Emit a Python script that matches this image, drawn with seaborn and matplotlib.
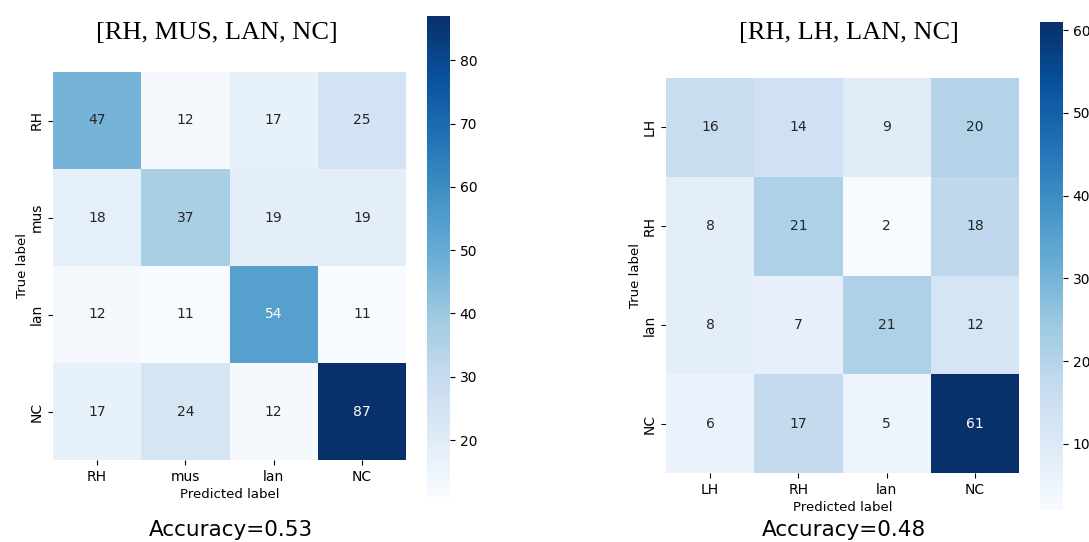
import numpy as np
import pandas as pd
import matplotlib
matplotlib.use("Agg")
import matplotlib.pyplot as plt
import seaborn as sns

# confusion matrices
labels_a = ["RH", "mus", "lan", "NC"]
cm_a = [[47, 12, 17, 25],
        [18, 37, 19, 19],
        [12, 11, 54, 11],
        [17, 24, 12, 87]]
title_a = "[RH, MUS, LAN, NC]"
acc_a = 0.53

labels_b = ["LH", "RH", "lan", "NC"]
cm_b = [[16, 14, 9, 20],
        [8, 21, 2, 18],
        [8, 7, 21, 12],
        [6, 17, 5, 61]]
title_b = "[RH, LH, LAN, NC]"
acc_b = 0.48

sns.set_style("white")
plt.rcParams['font.family'] = ['DejaVu Sans']
plt.rcParams['xtick.color'] = 'black'
plt.rcParams['ytick.color'] = 'black'
plt.rcParams['axes.labelcolor'] = 'black'
plt.rcParams['text.color'] = 'black'

fig = plt.figure(figsize=(10.89, 5.42), dpi=100)
W, H = 1089.0, 542.0

def box(x0, y0, x1, y1):
    # pixel box -> figure fraction
    return [x0 / W, 1 - y1 / H, (x1 - x0) / W, (y1 - y0) / H]

panels = [
    (cm_a, labels_a, title_a, acc_a, box(53, 72, 406, 460), box(427, 16, 450, 497),
     [20, 30, 40, 50, 60, 70, 80], 217, 231),
    (cm_b, labels_b, title_b, acc_b, box(666, 78, 1019, 473), box(1040, 22, 1063, 510),
     [10, 20, 30, 40, 50, 60], 849, 844),
]

for cm, labels, title, acc, ax_box, cb_box, cticks, tx, accx in panels:
    ax = fig.add_axes(ax_box)
    cax = fig.add_axes(cb_box)
    df = pd.DataFrame(cm, index=labels, columns=labels)
    sns.heatmap(df, annot=True, fmt="d", cmap="Blues", ax=ax, cbar_ax=cax,
                annot_kws={"size": 10})
    ax.tick_params(axis="both", length=3.5, width=0.8, labelsize=10, left=True, bottom=True)
    ax.set_xlabel("Predicted label", fontsize=9.5, labelpad=3)
    ax.set_ylabel("True label", fontsize=9.5, labelpad=0)
    fig.text(tx / W, 1 - 33 / H, title, fontsize=19, family="Liberation Serif",
             ha="center", va="center")
    fig.text(accx / W, 1 - 530 / H, "Accuracy={:.2f}".format(acc),
             ha="center", va="center", fontsize=15.5)
    cax.set_yticks(cticks)
    cax.tick_params(labelsize=10, length=3.5, width=0.8, right=True)

fig.savefig("out.png", dpi=100)
